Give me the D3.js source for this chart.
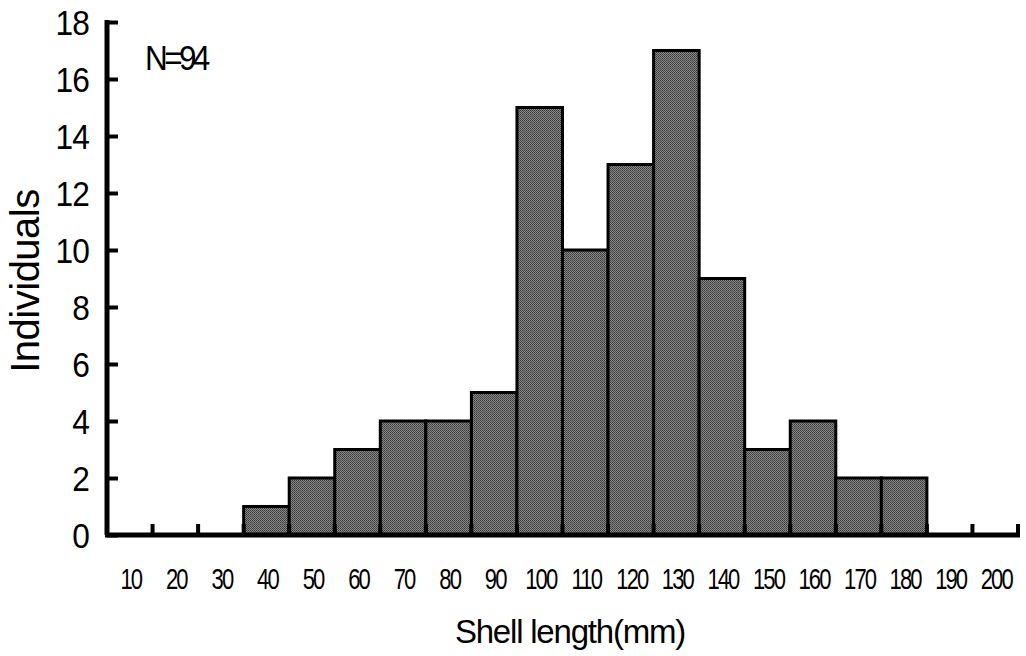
<!DOCTYPE html>
<html><head><meta charset="utf-8">
<script src="https://cdn.jsdelivr.net/npm/d3@7"></script>
<style>body{margin:0;background:#fff}svg{display:block}text{font-family:"Liberation Sans",Arial,sans-serif;fill:#000}</style>
</head><body>
<svg id="c" width="1026" height="656"></svg>
<script>
const categories = ["10","20","30","40","50","60","70","80","90","100","110","120","130","140","150","160","170","180","190","200"];
const counts = [0,0,0,1,2,3,4,4,5,15,10,13,17,9,3,4,2,2,0,0];
const yTicks = [0,2,4,6,8,10,12,14,16,18];
const annotation = "N=94";
const xTitle = "Shell length(mm)";
const yTitle = "Individuals";

const svg = d3.select("#c");
const defs = svg.append("defs");
const pat = defs.append("pattern").attr("id","dither").attr("width",2).attr("height",2).attr("patternUnits","userSpaceOnUse");
pat.append("rect").attr("width",2).attr("height",2).attr("fill","#858585");
pat.append("rect").attr("width",1).attr("height",1).attr("fill","#3e3e3e");
pat.append("rect").attr("x",1).attr("y",1).attr("width",1).attr("height",1).attr("fill","#4c4c4c");

const x = d3.scaleBand().domain(categories).range([107,1018]).paddingInner(0).paddingOuter(0);
const y = d3.scaleLinear().domain([0,18]).range([535,22]);

// bars
svg.append("g").selectAll("rect").data(categories.map((c,i)=>({c,v:counts[i]})).filter(d=>d.v>0))
  .join("rect")
  .attr("x",d=>x(d.c)).attr("width",x.bandwidth())
  .attr("y",d=>y(d.v)).attr("height",d=>y(0)-y(d.v))
  .attr("fill","url(#dither)").attr("stroke","#000").attr("stroke-width",3);

// y axis
const ya = svg.append("g").attr("transform","translate(107,0)")
  .call(d3.axisRight(y).tickValues(yTicks).tickSize(11).tickFormat(""));
ya.select(".domain").attr("d",`M0,${y(18)-2}V${y(0)}`).attr("stroke","#000").attr("stroke-width",5);
ya.selectAll(".tick line").attr("stroke","#000").attr("stroke-width",4);
svg.append("g").selectAll("text").data(yTicks).join("text")
  .attr("transform",d=>`translate(89,${y(d)+13}) scale(0.88,1)`).attr("text-anchor","end")
  .attr("font-size",36).attr("letter-spacing","-1").text(d=>d);

// x axis: ticks at bin boundaries
const bounds = categories.slice(1).map(c=>x(c)).concat([x.range()[1]]);
svg.append("line").attr("x1",105).attr("x2",1020).attr("y1",y(0)).attr("y2",y(0)).attr("stroke","#000").attr("stroke-width",5);
svg.append("g").selectAll("line").data(bounds).join("line")
  .attr("x1",d=>d).attr("x2",d=>d).attr("y1",y(0)).attr("y2",y(0)-11)
  .attr("stroke","#000").attr("stroke-width",4);
svg.append("g").selectAll("text").data(categories).join("text")
  .attr("transform",d=>`translate(${x(d)+x.bandwidth()/2+1},589) scale(0.76,1)`).attr("text-anchor","middle")
  .attr("font-size",29).attr("letter-spacing","-2.5").text(d=>d);

// titles
svg.append("text").attr("transform","translate(570,643)").attr("text-anchor","middle")
  .attr("font-size",33).attr("letter-spacing","-1.2").text(xTitle);
svg.append("text").attr("transform","translate(39,281) rotate(-90)").attr("text-anchor","middle")
  .attr("font-size",40).attr("letter-spacing","-0.5").text(yTitle);
svg.append("text").attr("transform","translate(145,70) scale(0.9,1)").attr("font-size",35).attr("letter-spacing","-4").text(annotation);
</script>
</body></html>
